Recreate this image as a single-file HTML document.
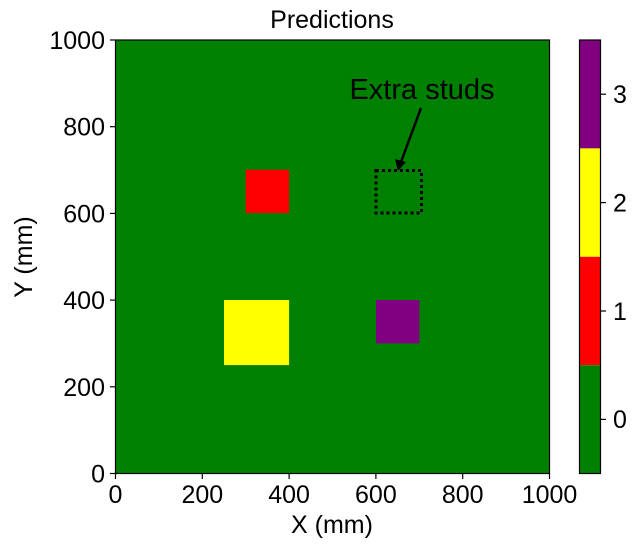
<!DOCTYPE html>
<html><head><meta charset="utf-8"><style>body{margin:0;background:#fff}</style></head><body>
<svg width="635" height="550" xmlns="http://www.w3.org/2000/svg" font-family="Liberation Sans, Arial, sans-serif" font-size="25">
<rect x="115.5" y="40" width="434" height="433.5" fill="#008000"/>
<rect x="245.7" y="169.7" width="43.4" height="43.4" fill="#ff0000"/>
<rect x="224" y="300" width="65.1" height="65.1" fill="#ffff00"/>
<rect x="376" y="300" width="43.4" height="43.4" fill="#800080"/>
<rect x="376" y="170.5" width="45.5" height="42.5" fill="none" stroke="#000" stroke-width="3" stroke-dasharray="3,3"/>
<line x1="421" y1="108" x2="401" y2="162" stroke="#000" stroke-width="2.5"/>
<polygon points="398,171 395,159 406,162" fill="#000"/>
<text x="422" y="99" text-anchor="middle" font-size="29">Extra studs</text>
<rect x="115.5" y="40" width="434" height="433.5" fill="none" stroke="#000" stroke-width="1.2"/>
<g stroke="#000" stroke-width="1.2">
<line x1="115.5" y1="473.5" x2="115.5" y2="479"/><line x1="202.3" y1="473.5" x2="202.3" y2="479"/><line x1="289.1" y1="473.5" x2="289.1" y2="479"/><line x1="375.9" y1="473.5" x2="375.9" y2="479"/><line x1="462.7" y1="473.5" x2="462.7" y2="479"/><line x1="549.5" y1="473.5" x2="549.5" y2="479"/>
<line x1="110" y1="473.5" x2="115.5" y2="473.5"/><line x1="110" y1="386.8" x2="115.5" y2="386.8"/><line x1="110" y1="300.1" x2="115.5" y2="300.1"/><line x1="110" y1="213.4" x2="115.5" y2="213.4"/><line x1="110" y1="126.7" x2="115.5" y2="126.7"/><line x1="110" y1="40" x2="115.5" y2="40"/>
</g>
<g text-anchor="middle">
<text x="115.5" y="503">0</text><text x="202.3" y="503">200</text><text x="289.1" y="503">400</text><text x="375.9" y="503">600</text><text x="462.7" y="503">800</text><text x="549.5" y="503">1000</text>
<text x="332" y="533">X (mm)</text>
<text x="332" y="28">Predictions</text>
</g>
<g text-anchor="end">
<text x="105" y="482.5">0</text><text x="105" y="395.8">200</text><text x="105" y="309.1">400</text><text x="105" y="222.4">600</text><text x="105" y="135.7">800</text><text x="105" y="49">1000</text>
</g>
<text transform="translate(32,257) rotate(-90)" text-anchor="middle">Y (mm)</text>
<rect x="579.5" y="40" width="21" height="108.4" fill="#800080"/>
<rect x="579.5" y="148.4" width="21" height="108.4" fill="#ffff00"/>
<rect x="579.5" y="256.8" width="21" height="108.4" fill="#ff0000"/>
<rect x="579.5" y="365.2" width="21" height="108.3" fill="#008000"/>
<rect x="579.5" y="40" width="21" height="433.5" fill="none" stroke="#000" stroke-width="1.2"/>
<g stroke="#000" stroke-width="1.2">
<line x1="600.5" y1="94.2" x2="606" y2="94.2"/><line x1="600.5" y1="202.6" x2="606" y2="202.6"/><line x1="600.5" y1="311" x2="606" y2="311"/><line x1="600.5" y1="419.4" x2="606" y2="419.4"/>
</g>
<text x="613" y="103">3</text><text x="613" y="211.4">2</text><text x="613" y="319.8">1</text><text x="613" y="428.2">0</text>
</svg>
</body></html>
